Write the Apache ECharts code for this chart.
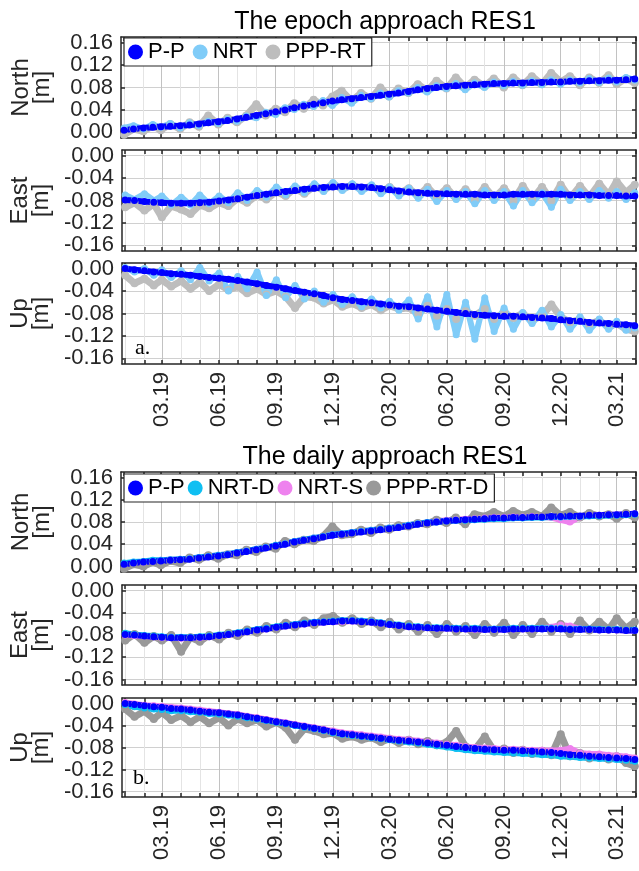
<!DOCTYPE html>
<html>
<head>
<meta charset="utf-8">
<script src="https://cdn.jsdelivr.net/npm/echarts@6/dist/echarts.min.js"></script>
<style>
html, body { margin: 0; padding: 0; background: #fff; }
#chart { width: 639px; height: 871px; }
</style>
</head>
<body>
<div id="chart"></div>
<script>
// sample dates (1st and 16th of each month)
var dates = [
  '2019-01-01','2019-01-16','2019-02-01','2019-02-16','2019-03-01','2019-03-16','2019-04-01','2019-04-16','2019-05-01','2019-05-16','2019-06-01','2019-06-16',
  '2019-07-01','2019-07-16','2019-08-01','2019-08-16','2019-09-01','2019-09-16','2019-10-01','2019-10-16','2019-11-01','2019-11-16','2019-12-01','2019-12-16',
  '2020-01-01','2020-01-16','2020-02-01','2020-02-16','2020-03-01','2020-03-16','2020-04-01','2020-04-16','2020-05-01','2020-05-16','2020-06-01','2020-06-16',
  '2020-07-01','2020-07-16','2020-08-01','2020-08-16','2020-09-01','2020-09-16','2020-10-01','2020-10-16','2020-11-01','2020-11-16','2020-12-01','2020-12-16',
  '2021-01-01','2021-01-16','2021-02-01','2021-02-16','2021-03-01','2021-03-16','2021-03-30'
];

// x ticks (every month) and labelled ticks (every 3 months)
var monthTicks = [
  '2019-01-01','2019-02-01','2019-03-01','2019-04-01','2019-05-01','2019-06-01','2019-07-01','2019-08-01','2019-09-01','2019-10-01','2019-11-01','2019-12-01',
  '2020-01-01','2020-02-01','2020-03-01','2020-04-01','2020-05-01','2020-06-01','2020-07-01','2020-08-01','2020-09-01','2020-10-01','2020-11-01','2020-12-01',
  '2021-01-01','2021-02-01','2021-03-01','2021-04-01'
];
var quarterLabels = ['2019-03-01','2019-06-01','2019-09-01','2019-12-01','2020-03-01','2020-06-01','2020-09-01','2020-12-01','2021-03-01'];

// y ticks
var northTicks = [0, 0.04, 0.08, 0.12, 0.16];
var negTicks = [-0.16, -0.12, -0.08, -0.04, 0];

// ---------------- P-P (same in both approaches)
var ppNorth = [
  0.004, 0.006, 0.008, 0.009, 0.010, 0.011, 0.012, 0.013, 0.015, 0.017, 0.019, 0.021,
  0.024, 0.027, 0.030, 0.033, 0.037, 0.040, 0.044, 0.047, 0.050, 0.053, 0.056, 0.058,
  0.060, 0.062, 0.064, 0.066, 0.068, 0.070, 0.073, 0.076, 0.078, 0.080, 0.082, 0.083,
  0.084, 0.085, 0.086, 0.087, 0.087, 0.088, 0.088, 0.089, 0.089, 0.090, 0.090, 0.091,
  0.091, 0.092, 0.092, 0.093, 0.093, 0.094, 0.095
];
var ppEast = [
  -0.079, -0.080, -0.082, -0.083, -0.084, -0.085, -0.085, -0.085, -0.084, -0.083, -0.081, -0.079,
  -0.077, -0.074, -0.071, -0.069, -0.066, -0.064, -0.062, -0.060, -0.058, -0.057, -0.056, -0.055,
  -0.055, -0.056, -0.057, -0.059, -0.061, -0.063, -0.065, -0.066, -0.067, -0.068, -0.068, -0.069,
  -0.069, -0.069, -0.070, -0.070, -0.070, -0.069, -0.069, -0.069, -0.069, -0.069, -0.069, -0.070,
  -0.070, -0.070, -0.071, -0.071, -0.071, -0.072, -0.072
];
var ppUp = [
  0.000, -0.002, -0.004, -0.006, -0.007, -0.009, -0.010, -0.012, -0.014, -0.016, -0.017, -0.019,
  -0.021, -0.024, -0.027, -0.030, -0.033, -0.036, -0.039, -0.042, -0.045, -0.048, -0.052, -0.055,
  -0.057, -0.059, -0.061, -0.063, -0.065, -0.067, -0.068, -0.070, -0.072, -0.074, -0.076, -0.078,
  -0.080, -0.082, -0.083, -0.084, -0.085, -0.085, -0.086, -0.087, -0.088, -0.089, -0.091, -0.093,
  -0.094, -0.096, -0.097, -0.098, -0.099, -0.100, -0.102
];

// ---------------- epoch approach
var nrtNorth = [
  0.008, 0.012, 0.006, 0.014, 0.009, 0.016, 0.008, 0.017, 0.012, 0.020, 0.016, 0.024,
  0.020, 0.029, 0.026, 0.036, 0.032, 0.044, 0.041, 0.050, 0.046, 0.057, 0.048, 0.062,
  0.052, 0.066, 0.060, 0.070, 0.063, 0.074, 0.070, 0.080, 0.072, 0.083, 0.078, 0.087,
  0.076, 0.088, 0.080, 0.090, 0.083, 0.091, 0.084, 0.092, 0.085, 0.094, 0.086, 0.094,
  0.088, 0.096, 0.089, 0.097, 0.090, 0.098, 0.093
];
var pppNorth = [
  -0.004, 0.006, 0.002, 0.012, 0.004, 0.015, 0.006, 0.018, 0.010, 0.030, 0.014, 0.026,
  0.018, 0.030, 0.050, 0.030, 0.042, 0.036, 0.052, 0.042, 0.058, 0.048, 0.064, 0.074,
  0.056, 0.070, 0.060, 0.080, 0.064, 0.078, 0.070, 0.086, 0.074, 0.092, 0.078, 0.098,
  0.080, 0.094, 0.082, 0.096, 0.080, 0.098, 0.084, 0.100, 0.086, 0.106, 0.090, 0.100,
  0.084, 0.098, 0.088, 0.102, 0.086, 0.096, 0.088
];
var nrtEast = [
  -0.070, -0.078, -0.068, -0.080, -0.072, -0.088, -0.074, -0.088, -0.070, -0.086, -0.072, -0.084,
  -0.066, -0.080, -0.062, -0.074, -0.056, -0.070, -0.054, -0.066, -0.050, -0.064, -0.048, -0.062,
  -0.050, -0.064, -0.052, -0.068, -0.056, -0.072, -0.058, -0.076, -0.060, -0.082, -0.062, -0.078,
  -0.064, -0.086, -0.062, -0.080, -0.064, -0.090, -0.062, -0.084, -0.066, -0.092, -0.060, -0.080,
  -0.064, -0.078, -0.062, -0.076, -0.064, -0.078, -0.066
];
var pppEast = [
  -0.092, -0.084, -0.098, -0.086, -0.110, -0.090, -0.096, -0.104, -0.088, -0.094, -0.084, -0.090,
  -0.076, -0.084, -0.070, -0.078, -0.064, -0.072, -0.058, -0.068, -0.054, -0.062, -0.050, -0.060,
  -0.052, -0.060, -0.054, -0.064, -0.056, -0.068, -0.058, -0.072, -0.056, -0.074, -0.058, -0.076,
  -0.060, -0.078, -0.056, -0.076, -0.058, -0.080, -0.054, -0.078, -0.056, -0.080, -0.052, -0.076,
  -0.054, -0.074, -0.050, -0.070, -0.046, -0.066, -0.052
];
var nrtUp = [
  0.002, -0.006, 0.000, -0.012, -0.002, -0.016, -0.004, -0.020, 0.002, -0.022, -0.008, -0.040,
  -0.014, -0.036, -0.006, -0.048, -0.020, -0.052, -0.030, -0.054, -0.040, -0.060, -0.046, -0.064,
  -0.050, -0.068, -0.054, -0.070, -0.058, -0.074, -0.056, -0.090, -0.050, -0.104, -0.046, -0.118,
  -0.060, -0.126, -0.052, -0.112, -0.070, -0.108, -0.078, -0.098, -0.074, -0.104, -0.082, -0.108,
  -0.086, -0.110, -0.090, -0.108, -0.094, -0.110, -0.106
];
var pppUp = [
  -0.012, -0.026, -0.018, -0.030, -0.020, -0.032, -0.022, -0.036, -0.024, -0.040, -0.028, -0.038,
  -0.032, -0.044, -0.036, -0.046, -0.040, -0.050, -0.070, -0.050, -0.052, -0.062, -0.056, -0.068,
  -0.062, -0.070, -0.064, -0.074, -0.066, -0.072, -0.070, -0.080, -0.066, -0.084, -0.072, -0.090,
  -0.076, -0.084, -0.072, -0.090, -0.078, -0.088, -0.080, -0.092, -0.084, -0.064, -0.086, -0.096,
  -0.090, -0.100, -0.092, -0.104, -0.098, -0.108, -0.112
];

// ---------------- daily approach
var nrtdNorth = [
  0.006, 0.008, 0.009, 0.011, 0.011, 0.012, 0.013, 0.014, 0.016, 0.018, 0.020, 0.022,
  0.025, 0.028, 0.031, 0.034, 0.038, 0.041, 0.045, 0.048, 0.051, 0.054, 0.057, 0.059,
  0.061, 0.063, 0.065, 0.067, 0.069, 0.071, 0.074, 0.077, 0.079, 0.080, 0.082, 0.083,
  0.083, 0.084, 0.085, 0.086, 0.086, 0.087, 0.087, 0.088, 0.088, 0.089, 0.089, 0.090,
  0.090, 0.091, 0.091, 0.092, 0.092, 0.093, 0.094
];
var nrtsNorth = [
  0.005, 0.007, 0.008, 0.010, 0.011, 0.012, 0.013, 0.014, 0.016, 0.018, 0.020, 0.022,
  0.025, 0.028, 0.031, 0.034, 0.038, 0.041, 0.045, 0.048, 0.051, 0.054, 0.057, 0.059,
  0.061, 0.063, 0.065, 0.067, 0.069, 0.071, 0.074, 0.077, 0.079, 0.081, 0.083, 0.084,
  0.085, 0.086, 0.087, 0.088, 0.088, 0.089, 0.089, 0.090, 0.089, 0.088, 0.084, 0.080,
  0.089, 0.092, 0.092, 0.093, 0.093, 0.094, 0.095
];
var pppdNorth = [
  -0.004, 0.004, 0.000, 0.008, 0.002, 0.010, 0.006, 0.016, 0.012, 0.020, 0.014, 0.022,
  0.020, 0.030, 0.026, 0.036, 0.032, 0.046, 0.040, 0.048, 0.046, 0.054, 0.072, 0.056,
  0.058, 0.066, 0.060, 0.070, 0.066, 0.074, 0.072, 0.078, 0.076, 0.084, 0.078, 0.088,
  0.076, 0.094, 0.090, 0.098, 0.090, 0.100, 0.092, 0.098, 0.090, 0.106, 0.092, 0.098,
  0.088, 0.096, 0.090, 0.094, 0.086, 0.096, 0.088
];
var nrtdEast = [
  -0.077, -0.079, -0.081, -0.082, -0.083, -0.084, -0.084, -0.084, -0.083, -0.082, -0.080, -0.078,
  -0.076, -0.073, -0.070, -0.068, -0.065, -0.063, -0.061, -0.059, -0.057, -0.056, -0.055, -0.054,
  -0.054, -0.055, -0.056, -0.058, -0.060, -0.062, -0.064, -0.065, -0.066, -0.067, -0.067, -0.068,
  -0.068, -0.068, -0.069, -0.069, -0.069, -0.068, -0.068, -0.068, -0.068, -0.068, -0.068, -0.069,
  -0.069, -0.069, -0.070, -0.070, -0.070, -0.071, -0.071
];
var nrtsEast = [
  -0.080, -0.081, -0.082, -0.083, -0.085, -0.085, -0.086, -0.085, -0.085, -0.083, -0.081, -0.079,
  -0.077, -0.074, -0.071, -0.069, -0.066, -0.064, -0.062, -0.060, -0.058, -0.057, -0.056, -0.056,
  -0.055, -0.056, -0.057, -0.059, -0.061, -0.063, -0.065, -0.066, -0.067, -0.068, -0.068, -0.069,
  -0.069, -0.070, -0.070, -0.070, -0.070, -0.069, -0.069, -0.069, -0.068, -0.066, -0.062, -0.064,
  -0.069, -0.070, -0.071, -0.071, -0.071, -0.072, -0.072
];
var pppdEast = [
  -0.090, -0.078, -0.094, -0.082, -0.090, -0.080, -0.110, -0.084, -0.092, -0.080, -0.088, -0.076,
  -0.082, -0.070, -0.076, -0.064, -0.070, -0.058, -0.066, -0.054, -0.062, -0.050, -0.046, -0.058,
  -0.050, -0.060, -0.054, -0.066, -0.056, -0.070, -0.060, -0.074, -0.062, -0.078, -0.060, -0.074,
  -0.064, -0.080, -0.060, -0.076, -0.058, -0.080, -0.062, -0.078, -0.056, -0.074, -0.060, -0.078,
  -0.054, -0.072, -0.056, -0.070, -0.050, -0.068, -0.056
];
var nrtdUp = [
  -0.002, -0.006, -0.008, -0.010, -0.011, -0.013, -0.013, -0.015, -0.016, -0.018, -0.019, -0.021,
  -0.023, -0.026, -0.028, -0.031, -0.034, -0.037, -0.040, -0.043, -0.046, -0.049, -0.053, -0.056,
  -0.058, -0.060, -0.062, -0.064, -0.066, -0.068, -0.070, -0.072, -0.074, -0.077, -0.079, -0.082,
  -0.084, -0.086, -0.087, -0.088, -0.089, -0.090, -0.091, -0.092, -0.093, -0.094, -0.096, -0.097,
  -0.098, -0.099, -0.100, -0.101, -0.102, -0.103, -0.105
];
var nrtsUp = [
  0.002, -0.001, -0.003, -0.004, -0.005, -0.007, -0.008, -0.010, -0.012, -0.014, -0.016, -0.018,
  -0.020, -0.023, -0.026, -0.029, -0.032, -0.035, -0.038, -0.041, -0.044, -0.047, -0.050, -0.053,
  -0.055, -0.057, -0.059, -0.061, -0.063, -0.065, -0.066, -0.068, -0.070, -0.072, -0.074, -0.076,
  -0.078, -0.080, -0.081, -0.082, -0.083, -0.083, -0.084, -0.085, -0.085, -0.086, -0.085, -0.082,
  -0.090, -0.092, -0.092, -0.094, -0.095, -0.097, -0.099
];
var pppdUp = [
  -0.010, -0.024, -0.014, -0.028, -0.016, -0.030, -0.022, -0.034, -0.024, -0.036, -0.026, -0.040,
  -0.028, -0.036, -0.030, -0.042, -0.034, -0.044, -0.066, -0.046, -0.050, -0.056, -0.054, -0.064,
  -0.060, -0.066, -0.062, -0.070, -0.064, -0.072, -0.066, -0.074, -0.068, -0.076, -0.070, -0.050,
  -0.078, -0.084, -0.060, -0.086, -0.082, -0.090, -0.084, -0.092, -0.086, -0.094, -0.056, -0.096,
  -0.090, -0.100, -0.094, -0.102, -0.096, -0.108, -0.114
];

//*************************************************************************************************style
var FONT = 'Liberation Sans';
var AXIS = '#262626';
var GRID_MINOR = '#e4e4e4';
var GRID_MAJOR = '#c2c2c2';
var GRID_Y = '#d0d0d0';

var C_PP = '#0000ff';
var C_NRT = '#80ccf8';
var C_PPP = '#bdbdbd';
var C_NRTD = '#0fbff2';
var C_NRTS = '#ee82ee';
var C_PPPD = '#999999';

// dates -> ms (UTC) for the value x axis
function ms(s) { return Date.parse(s + 'T00:00:00Z'); }
var X_MIN = ms('2018-12-27');
var X_MAX = ms('2021-04-01');
var monthTickMs = monthTicks.map(ms);
var quarterLabelMs = quarterLabels.map(ms);

function pair(arr) {
    return dates.map(function (d, i) { return [ms(d), arr[i]]; });
}

function fmtMonth(v) {
    var d = new Date(v);
    var m = d.getUTCMonth() + 1;
    var y = d.getUTCFullYear() % 100;
    return (m < 10 ? '0' : '') + m + '.' + (y < 10 ? '0' : '') + y;
}

// one entry per sub plot: [legend name, values, colour, line width]
var panels = [
    { top: 37, height: 101, name: 'North\n[m]', min: -0.01, max: 0.17, ticks: northTicks, labels: false,
      lines: [['PPP-RT', pppNorth, C_PPP, 7], ['NRT', nrtNorth, C_NRT, 6], ['P-P', ppNorth, C_PP, 6]] },
    { top: 150, height: 101, name: 'East\n[m]', min: -0.17, max: 0.01, ticks: negTicks, labels: false,
      lines: [['PPP-RT', pppEast, C_PPP, 7], ['NRT', nrtEast, C_NRT, 6], ['P-P', ppEast, C_PP, 6]] },
    { top: 263, height: 101, name: 'Up\n[m]', min: -0.17, max: 0.01, ticks: negTicks, labels: true,
      lines: [['PPP-RT', pppUp, C_PPP, 7], ['NRT', nrtUp, C_NRT, 6], ['P-P', ppUp, C_PP, 6]] },
    { top: 472, height: 100, name: 'North\n[m]', min: -0.01, max: 0.17, ticks: northTicks, labels: false,
      lines: [['PPP-RT-D', pppdNorth, C_PPPD, 7], ['NRT-S', nrtsNorth, C_NRTS, 6], ['NRT-D', nrtdNorth, C_NRTD, 6], ['P-P', ppNorth, C_PP, 6]] },
    { top: 585, height: 100, name: 'East\n[m]', min: -0.17, max: 0.01, ticks: negTicks, labels: false,
      lines: [['PPP-RT-D', pppdEast, C_PPPD, 7], ['NRT-S', nrtsEast, C_NRTS, 6], ['NRT-D', nrtdEast, C_NRTD, 6], ['P-P', ppEast, C_PP, 6]] },
    { top: 698, height: 99, name: 'Up\n[m]', min: -0.17, max: 0.01, ticks: negTicks, labels: true,
      lines: [['PPP-RT-D', pppdUp, C_PPPD, 7], ['NRT-S', nrtsUp, C_NRTS, 6], ['NRT-D', nrtdUp, C_NRTD, 6], ['P-P', ppUp, C_PP, 6]] }
];

var grids = [], xAxes = [], yAxes = [], series = [];

panels.forEach(function (p, k) {
    grids.push({ left: 121, width: 515, top: p.top, height: p.height });

    var axisLine = { show: true, onZero: false, lineStyle: { color: AXIS, width: 1.5 } };
    // bottom x axis: month ticks, labels every 3 months
    xAxes.push({
        type: 'value', gridIndex: k, min: X_MIN, max: X_MAX, position: 'bottom',
        axisLine: axisLine,
        axisTick: { show: true, inside: true, length: 4, customValues: monthTickMs, lineStyle: { color: AXIS, width: 1.5 } },
        axisLabel: { show: p.labels, customValues: quarterLabelMs, rotate: 90, margin: 8, formatter: fmtMonth,
                     fontFamily: FONT, fontSize: 22, color: AXIS },
        splitLine: { show: true, lineStyle: { color: [GRID_MINOR, GRID_MINOR, GRID_MAJOR], width: 1 } }
    });
    // top x axis: only the box side with ticks
    xAxes.push({
        type: 'value', gridIndex: k, min: X_MIN, max: X_MAX, position: 'top',
        axisLine: axisLine,
        axisTick: { show: true, inside: true, length: 4, customValues: monthTickMs, lineStyle: { color: AXIS, width: 1.5 } },
        axisLabel: { show: false },
        splitLine: { show: false }
    });
    yAxes.push({
        type: 'value', gridIndex: k, min: p.min, max: p.max, position: 'left',
        name: p.name, nameLocation: 'middle', nameRotate: 90, nameGap: 68,
        nameTextStyle: { fontFamily: FONT, fontSize: 24, lineHeight: 21, color: AXIS },
        axisLine: axisLine,
        axisTick: { show: true, inside: true, length: 4, customValues: p.ticks, lineStyle: { color: AXIS, width: 1.5 } },
        axisLabel: { customValues: p.ticks, margin: 8, fontFamily: FONT, fontSize: 22, color: AXIS,
                     formatter: function (v) { return v.toFixed(2); } },
        splitLine: { show: true, lineStyle: { color: GRID_Y, width: 1 } }
    });
    yAxes.push({
        type: 'value', gridIndex: k, min: p.min, max: p.max, position: 'right',
        axisLine: axisLine,
        axisTick: { show: true, inside: true, length: 4, customValues: p.ticks, lineStyle: { color: AXIS, width: 1.5 } },
        axisLabel: { show: false },
        splitLine: { show: false }
    });

    p.lines.forEach(function (s) {
        series.push({
            name: s[0], type: 'line', xAxisIndex: 2 * k, yAxisIndex: 2 * k,
            data: pair(s[1]),
            symbol: 'circle', symbolSize: s[3] + 1, showSymbol: true,
            itemStyle: { color: s[2] },
            lineStyle: { color: s[2], width: s[3], cap: 'round', join: 'round' },
            emphasis: { disabled: true },
            animation: false
        });
    });
});

var legendBase = {
    orient: 'horizontal', icon: 'circle', itemWidth: 15, itemHeight: 15,
    backgroundColor: '#fff', borderColor: AXIS, borderWidth: 1.2, borderRadius: 0,
    selectedMode: false, z: 10,
    textStyle: { fontFamily: FONT, fontSize: 22, color: '#000' }
};

var chart = echarts.init(document.getElementById('chart'));
chart.setOption({
    backgroundColor: '#fff',
    animation: false,
    title: [
        { text: 'The epoch approach RES1', left: 380, top: 5, textAlign: 'center',
          textStyle: { fontFamily: FONT, fontSize: 25, fontWeight: 'normal', color: '#000' } },
        { text: 'The daily approach RES1', left: 380, top: 440, textAlign: 'center',
          textStyle: { fontFamily: FONT, fontSize: 25, fontWeight: 'normal', color: '#000' } }
    ],
    legend: [
        Object.assign({}, legendBase, { data: ['P-P', 'NRT', 'PPP-RT'], left: 124, top: 38, itemGap: 8, padding: [3, 6, 3, 4] }),
        Object.assign({}, legendBase, { data: ['P-P', 'NRT-D', 'NRT-S', 'PPP-RT-D'], left: 124, top: 474, itemGap: 3, padding: [3, 6, 3, 4] })
    ],
    graphic: [
        { type: 'text', left: 135, top: 337, z: 10,
          style: { text: 'a.', font: '22px "Liberation Serif"', fill: '#000' } },
        { type: 'text', left: 133, top: 767, z: 10,
          style: { text: 'b.', font: '22px "Liberation Serif"', fill: '#000' } }
    ],
    grid: grids,
    xAxis: xAxes,
    yAxis: yAxes,
    series: series
});
</script>
</body>
</html>
